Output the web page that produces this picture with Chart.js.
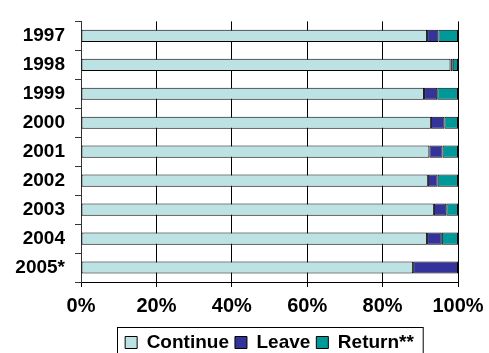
<!DOCTYPE html>
<html>
<head>
<meta charset="utf-8">
<script src="https://cdn.jsdelivr.net/npm/chart.js@4.4.1/dist/chart.umd.min.js"></script>
<style>
  html, body { margin: 0; padding: 0; background: #fff; }
  #wrap { width: 489px; height: 353px; }
</style>
</head>
<body>
<div id="wrap"><canvas id="chart" width="489" height="353"></canvas></div>
<script>
// --- datos ---
const years = ["1997", "1998", "1999", "2000", "2001", "2002", "2003", "2004", "2005*"];
const continueVals = [91.8, 98.0, 91.0, 92.8, 92.4, 92.0, 93.6, 91.8, 88.1];
const leaveVals = [3.0, 0.6, 3.5, 3.6, 3.5, 2.6, 3.3, 3.9, 11.9];
const returnVals = [5.2, 1.4, 5.5, 3.6, 4.1, 5.4, 3.1, 4.3, 0];
const xTicks = [0, 20, 40, 60, 80, 100];

const FONT = "Arial, 'Liberation Sans', sans-serif";

// --- recuadro alrededor de la leyenda ---
const legendBoxPlugin = {
  id: "legendBox",
  afterDraw(chart) {
    const boxes = chart.legend?.legendHitBoxes;
    if (!boxes || !boxes.length) return;
    const left = Math.min(...boxes.map((b) => b.left)) - 8;
    const right = Math.max(...boxes.map((b) => b.left + b.width)) + 9;
    const top = Math.min(...boxes.map((b) => b.top)) - 6;
    const { ctx } = chart;
    ctx.save();
    ctx.strokeStyle = "#000";
    ctx.lineWidth = 1;
    ctx.strokeRect(Math.round(left) + 0.5, Math.round(top) + 0.5, right - left, 60);
    ctx.restore();
  },
};

const bar = (label, data, color) => ({
  label,
  data,
  backgroundColor: color,
  borderColor: "#000",
  borderWidth: 1,
  borderSkipped: false,
  barPercentage: 0.42,
  categoryPercentage: 1,
});

new Chart(document.getElementById("chart"), {
  type: "bar",
  data: {
    labels: years,
    datasets: [
      bar("Continue", continueVals, "#bde2e3"),
      bar("Leave", leaveVals, "#333399"),
      bar("Return**", returnVals, "#009999"),
    ],
  },
  options: {
    indexAxis: "y",
    responsive: false,
    animation: false,
    layout: { padding: { top: 8, right: 31, left: 0, bottom: -9 } },
    plugins: {
      tooltip: { enabled: false },
      legend: {
        position: "bottom",
        fullSize: false,
        labels: {
          color: "#000",
          font: { family: FONT, size: 19, weight: "bold" },
          boxWidth: 12,
          boxHeight: 12,
          padding: 6,
        },
      },
    },
    scales: {
      x: {
        stacked: true,
        min: 0,
        max: 100,
        afterBuildTicks: (axis) => {
          axis.ticks = xTicks.map((v) => ({ value: v }));
        },
        afterFit: (axis) => {
          axis.height = 45;
          axis.paddingLeft = 0;
          axis.paddingRight = 0;
        },
        ticks: {
          color: "#000",
          font: { family: FONT, size: 20, weight: "bold" },
          callback: (v) => v + "%",
          padding: 7,
          maxRotation: 0,
        },
        grid: { color: "#000", lineWidth: 1, tickLength: 5 },
        border: { color: "#000" },
      },
      y: {
        stacked: true,
        afterFit: (axis) => {
          axis.width = 81;
        },
        ticks: {
          color: "#000",
          font: { family: FONT, size: 19, weight: "bold" },
          padding: 10,
        },
        grid: { drawOnChartArea: false, offset: true, tickLength: 6, color: "#333" },
        border: { color: "#333" },
      },
    },
  },
  plugins: [legendBoxPlugin],
});
</script>
</body>
</html>
